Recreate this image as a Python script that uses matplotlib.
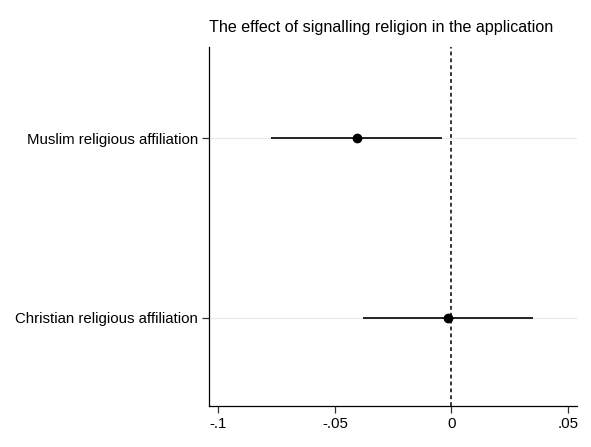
import matplotlib
matplotlib.use("Agg")
import matplotlib.pyplot as plt

# coefficient estimates with 95% CIs
labels = ["Muslim religious affiliation", "Christian religious affiliation"]
coef = [-0.0407, -0.0015]
ci_low = [-0.0775, -0.0379]
ci_high = [-0.0040, 0.0350]
xticks = [-0.1, -0.05, 0, 0.05]
xticklabels = ["-.1", "-.05", "0", ".05"]

plt.rcParams['font.family'] = ['Liberation Sans', 'DejaVu Sans']

fig = plt.figure(figsize=(5.91, 4.47), dpi=100)
ax = fig.add_axes([0.354, 0.092, 0.623, 0.803])

ypos = list(range(1, len(labels) + 1))
for y in ypos:
    ax.axhline(y, color="#e3eaee", lw=0.9, zorder=0)

ax.hlines(ypos, ci_low, ci_high, color="black", lw=1.2, zorder=2)
ax.plot(coef, ypos, "o", color="black", ms=6, zorder=3)
ax.axvline(0, color="black", lw=1.1, ls=(0, (2.5, 2)), zorder=1)

ax.set_xlim(-0.1039, 0.054)
ax.set_ylim(2.49, 0.49)
ax.set_yticks(ypos)
ax.set_yticklabels(labels, fontsize=10.8)
ax.set_xticks(xticks)
ax.set_xticklabels(xticklabels, fontsize=10.8)
ax.tick_params(axis="both", length=5, width=0.9, color="#333333", pad=3)

ax.spines["top"].set_visible(False)
ax.spines["right"].set_visible(False)
ax.spines["left"].set_linewidth(0.9)
ax.spines["bottom"].set_linewidth(0.9)

ax.set_title("The effect of signalling religion in the application", loc="left",
             fontsize=11.6, pad=11)

fig.savefig("out.png", dpi=100)
